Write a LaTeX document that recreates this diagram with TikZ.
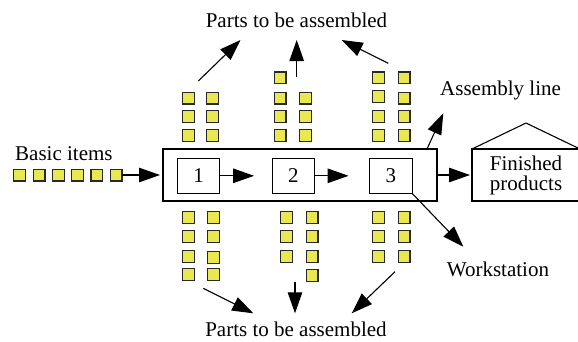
\documentclass[tikz,border=0pt]{standalone}
\usepackage{fontspec}
\setmainfont{Liberation Serif}
\usetikzlibrary{arrows.meta}
\definecolor{partfill}{RGB}{234,232,80}
\definecolor{partedge}{RGB}{40,40,40}
\begin{document}
\begin{tikzpicture}[x=1pt,y=-1pt,
  every node/.style={font=\fontsize{21}{20}\selectfont},
  part/.style={draw=partedge,fill=partfill,line width=1.2pt,minimum size=11.8pt,inner sep=0pt,outer sep=0pt},
  frame/.style={draw,line width=1.1pt,inner sep=0pt,outer sep=0pt},
  arr/.style={line width=1.1pt,-{Triangle[length=21pt,width=14.5pt]}},
  caption/.style={inner sep=0pt}]
\useasboundingbox (0,0) rectangle (578,341);

% parts waiting above the line
\foreach \x/\y [count=\i] in {188.3/98,188.3/116.3,188.3/135.5,
    212.7/98,212.7/116.3,212.7/135.5,
    280/77.8,280/98,280/116.3,280/135.5,
    305.7/98,305.7/116.3,305.7/135.5,
    378.3/77.8,378.3/96.2,378.3/116.3,378.3/135.5,
    404/77.8,404/98,404/116.3,404/135.5}
  \node[part] (up\i) at (\x,\y) {};

% parts waiting below the line
\foreach \x/\y [count=\i] in {188.3/217.5,188.3/236.2,188.3/256.3,188.3/274.7,
    213.7/217.5,213.7/236.2,213.7/257.5,213.7/274.7,
    286.7/217.5,286.7/236.2,286.7/256.3,
    312/217.5,312/236.2,312/256.3,312/275.5,
    378.3/217.5,378.3/236.2,378.3/256.3,
    404/217.5,404/236.2,404/256.3}
  \node[part] (dn\i) at (\x,\y) {};

% basic items queue
\foreach \x [count=\i] in {19.7,39,58.3,77.5,96.8,116}
  \node[part] (b\i) at (\x,175) {};
\node[caption, anchor=base west] (basic) at (15,160) {Basic items};

% assembly line with its workstations
\node[frame, minimum width=274pt, minimum height=52pt] (line) at (300,175) {};
\node[frame, minimum width=42.5pt, minimum height=35pt] (s1) at (198.6,175.8) {1};
\node[frame, minimum width=42.5pt, minimum height=35pt] (s2) at (293.3,175.8) {2};
\node[frame, minimum width=42.5pt, minimum height=35pt] (s3) at (390.8,175.8) {3};

\draw[arr, shorten >=18pt] (s1) -- (s2);
\draw[arr, shorten >=21pt] (s2) -- (s3);
\draw[arr, shorten >=3pt] (b6) -- (line);

% finished products store (its right wall runs off the page edge)
\node[frame, minimum width=108pt, minimum height=52pt, align=center] (fp) at (526,175) {Finished\\products};
\coordinate (apex) at (526,123);
\draw[line width=1.1pt, line join=miter] (fp.north west) -- (apex) -- (fp.north east);
\draw[arr, shorten >=2pt] (line) -- (fp);

% labels for the line and a workstation
\node[caption, anchor=base west] (al) at (440,95) {Assembly line};
\coordinate (altip) at (443.3,113.3);
\draw[arr] ([xshift=-10pt]line.north east) -- (altip);

\node[caption, anchor=base west] (ws) at (446.7,276.5) {Workstation};
\coordinate (wstip) at (463.3,246.7);
\draw[arr] (s3.south east) -- (wstip);

% parts flowing in from above
\node[caption, anchor=base] (ptop) at (296.5,27) {Parts to be assembled};
\coordinate (ua) at (198.3,81);   \coordinate (uat) at (240.5,40);
\coordinate (ub) at (296.7,77);   \coordinate (ubt) at (296.7,40);
\coordinate (uc) at (388.3,63.3); \coordinate (uct) at (341.7,40);
\draw[arr] (ua) -- (uat);
\draw[arr] (ub) -- (ubt);
\draw[arr] (uc) -- (uct);

% parts flowing in from below
\node[caption, anchor=base] (pbot) at (296,336) {Parts to be assembled};
\coordinate (da) at (203.3,288.3); \coordinate (dat) at (253.3,313.3);
\coordinate (db) at (295,281.7);   \coordinate (dbt) at (295,313.3);
\coordinate (dc) at (395,271.7);   \coordinate (dct) at (351.7,313.3);
\draw[arr] (da) -- (dat);
\draw[arr] (db) -- (dbt);
\draw[arr] (dc) -- (dct);
\end{tikzpicture}
\end{document}
